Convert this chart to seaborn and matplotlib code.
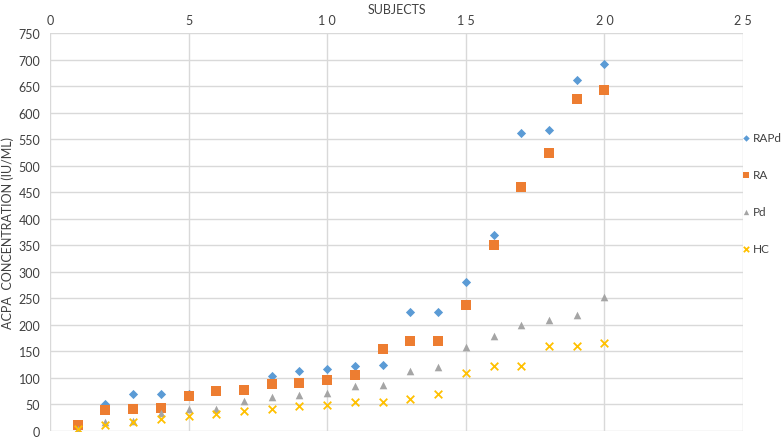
import matplotlib
matplotlib.use("Agg")
import matplotlib.pyplot as plt
import seaborn as sns
import pandas as pd

subjects = list(range(1, 21))
rapd = [11, 50, 69, 69, 70, 75, 77, 104, 114, 116, 122, 125, 224, 224, 280, 369, 561, 568, 662, 691]
ra = [11, 39, 41, 43, 66, 75, 77, 89, 91, 97, 106, 154, 170, 170, 238, 350, 459, 523, 626, 643]
pd_ = [3, 17, 18, 33, 42, 42, 57, 65, 68, 71, 84, 86, 113, 120, 159, 179, 199, 209, 219, 253]
hc = [4, 11, 17, 22, 28, 32, 38, 42, 47, 49, 54, 55, 61, 70, 109, 123, 123, 160, 161, 166]
series_names = ["RAPd", "RA", "Pd", "HC"]

df = pd.DataFrame({
    "subject": subjects * 4,
    "value": rapd + ra + pd_ + hc,
    "group": sum([[n] * 20 for n in series_names], []),
})

sns.set_theme(style="white")
plt.rcParams["font.family"] = ["Lato", "DejaVu Sans"]

colors = {"RAPd": "#5B9BD5", "RA": "#ED7D31", "Pd": "#A5A5A5", "HC": "#FFC000"}
markers = {"RAPd": "D", "RA": "s", "Pd": "^", "HC": "x"}
sizes = {"RAPd": 22, "RA": 48, "Pd": 30, "HC": 30}

fig = plt.figure(figsize=(7.84, 4.39), dpi=100)
ax = fig.add_axes([50 / 784, 7 / 439, 693 / 784, 398 / 439])

for name in series_names:
    sub = df[df["group"] == name]
    sns.scatterplot(data=sub, x="subject", y="value", color=colors[name],
                    marker=markers[name], s=sizes[name], linewidth=0 if markers[name] != "x" else 1.3,
                    ax=ax, label=name, zorder=3)

ax.set_xlim(0, 25)
ax.set_ylim(0, 750)
ax.set_xticks(range(0, 26, 5))
ax.set_yticks(range(0, 751, 50))
ax.set_xticklabels(["0", "5", "1 0", "1 5", "2 0", "2 5"])
ax.grid(True, color="#D9D9D9", linewidth=1)
ax.set_axisbelow(True)
for s in ax.spines.values():
    s.set_visible(False)
ax.xaxis.tick_top()
ax.xaxis.set_label_position("top")
ax.tick_params(axis="both", length=0, labelsize=9, colors="#404040")
ax.tick_params(axis="x", pad=5)
ax.tick_params(axis="y", pad=7)
ax.set_xlabel("SUBJECTS", fontsize=9, color="#404040", labelpad=1)
ax.set_ylabel("ACPA  CONCENTRATION (IU/ML)", fontsize=9, color="#404040", labelpad=3)

handles, labels = ax.get_legend_handles_labels()
ax.legend(handles, labels, loc="center left", bbox_to_anchor=(743 / 784, 1 - 194 / 439),
          bbox_transform=fig.transFigure, frameon=False, fontsize=8.5, labelspacing=2.2,
          handlelength=0.5, handletextpad=0.3, markerscale=0.7, labelcolor="#404040",
          borderaxespad=0, borderpad=0)

fig.savefig("out.png", dpi=100)
